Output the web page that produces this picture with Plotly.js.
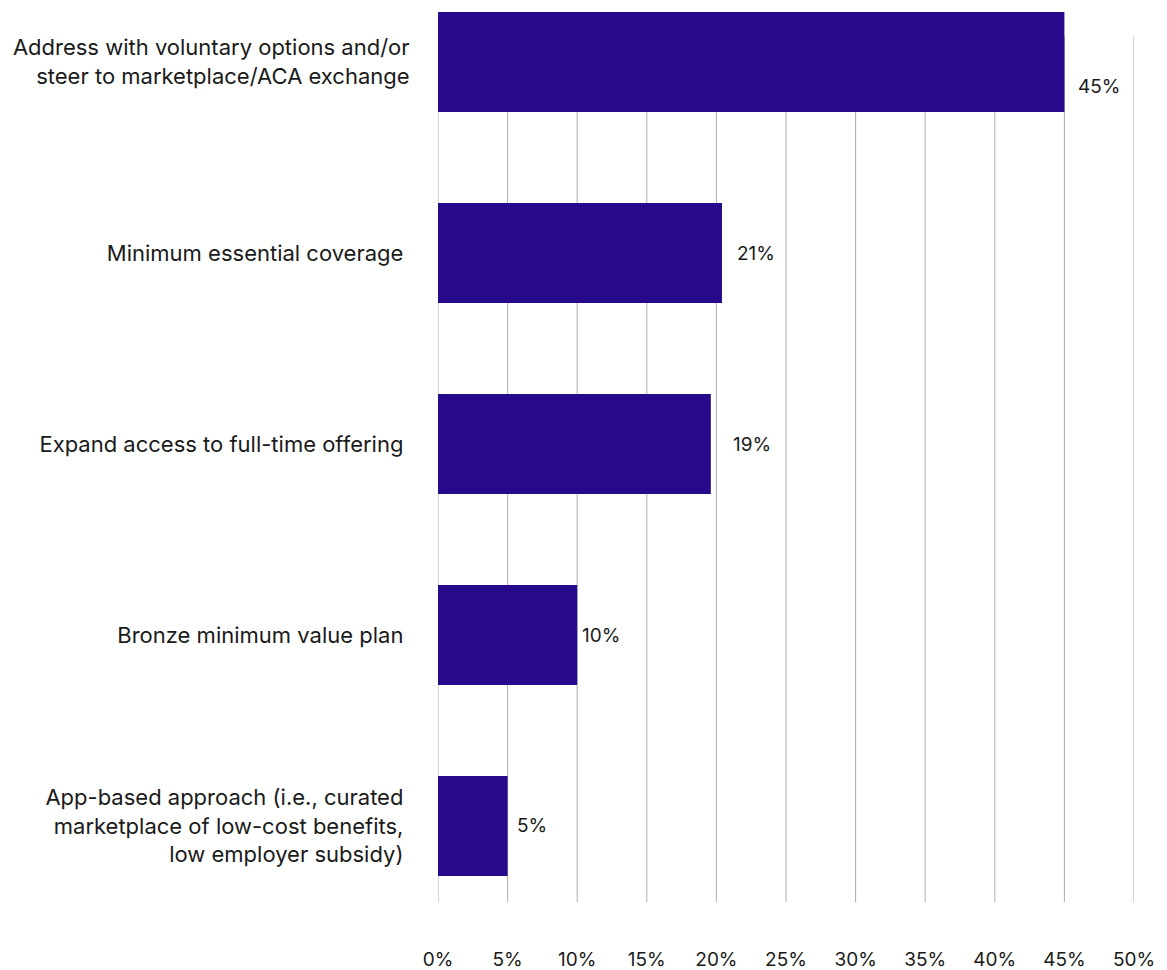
<!DOCTYPE html>
<html>
<head>
<meta charset="utf-8">
<script src="https://cdn.plot.ly/plotly-3.0.1.min.js"></script>
<style>
  html, body { margin: 0; padding: 0; background: #ffffff; }
  #chart { width: 1167px; height: 970px; }
</style>
</head>
<body>
<div id="chart"></div>
<script>
// ---- data ----
const categories = [
  "Address with voluntary options and/or<br>steer to marketplace/ACA exchange",
  "Minimum essential coverage\u00A0",
  "Expand access to full-time offering\u00A0",
  "Bronze minimum value plan\u00A0",
  "App-based approach (i.e., curated\u00A0<br>marketplace of low-cost benefits,\u00A0<br>low employer subsidy)\u00A0"
];
const values = [45, 20.4, 19.6, 10, 5];
const valueLabels = ["45%", "21%", "19%", "10%", "5%"];
const tickValues = [0, 5, 10, 15, 20, 25, 30, 35, 40, 45, 50];
const tickLabels = ["0%", "5%", "10%", "15%", "20%", "25%", "30%", "35%", "40%", "45%", "50%"];

// ---- style (label nudges in pixels) ----
const labelXShift = [12, 13, 20, 3, 7];
const labelYShift = [-24, 0, 0, 0, 0];

const FONT = "Inter, 'Noto Sans', Roboto, sans-serif";
const TEXT = "#1a1a1a";
const GRID = "#adadad";
const GRID_TOP = 0.973; // gridlines start a little below the plot top (paper fraction of plot area)

const trace = {
  type: "bar",
  orientation: "h",
  x: values,
  y: categories,
  marker: { color: "#27098b", line: { width: 0 } },
  hoverinfo: "skip"
};

const annotations = values.map((v, i) => ({
  x: v,
  y: categories[i],
  xref: "x",
  yref: "y",
  text: valueLabels[i],
  showarrow: false,
  xanchor: "left",
  yanchor: "middle",
  xshift: labelXShift[i],
  yshift: labelYShift[i],
  font: { family: FONT, size: 19, color: TEXT }
}));

const gridShapes = tickValues.map(t => ({
  type: "line",
  xref: "x",
  yref: "paper",
  x0: t, x1: t,
  y0: 0, y1: GRID_TOP,
  layer: "below",
  line: { color: GRID, width: 1 }
}));

const layout = {
  width: 1167,
  height: 970,
  paper_bgcolor: "#ffffff",
  plot_bgcolor: "rgba(0,0,0,0)",
  margin: { l: 438, r: 33, t: 12, b: 68, pad: 0 },
  showlegend: false,
  bargap: 0.476,
  font: { family: FONT, color: TEXT },
  xaxis: {
    range: [0, 50],
    tickmode: "array",
    tickvals: tickValues,
    ticktext: tickLabels,
    showgrid: false,
    zeroline: false,
    showline: false,
    ticks: "outside",
    ticklen: 40,
    tickcolor: "rgba(0,0,0,0)",
    tickfont: { family: FONT, size: 19, color: TEXT },
    fixedrange: true
  },
  yaxis: {
    type: "category",
    range: [4.398, -0.262],
    showgrid: false,
    zeroline: false,
    showline: false,
    ticks: "outside",
    ticklen: 23,
    tickcolor: "rgba(0,0,0,0)",
    tickfont: { family: FONT, size: 22, color: TEXT },
    fixedrange: true
  },
  shapes: gridShapes,
  annotations: annotations
};

Plotly.newPlot("chart", [trace], layout, { displayModeBar: false, staticPlot: true });
</script>
</body>
</html>
